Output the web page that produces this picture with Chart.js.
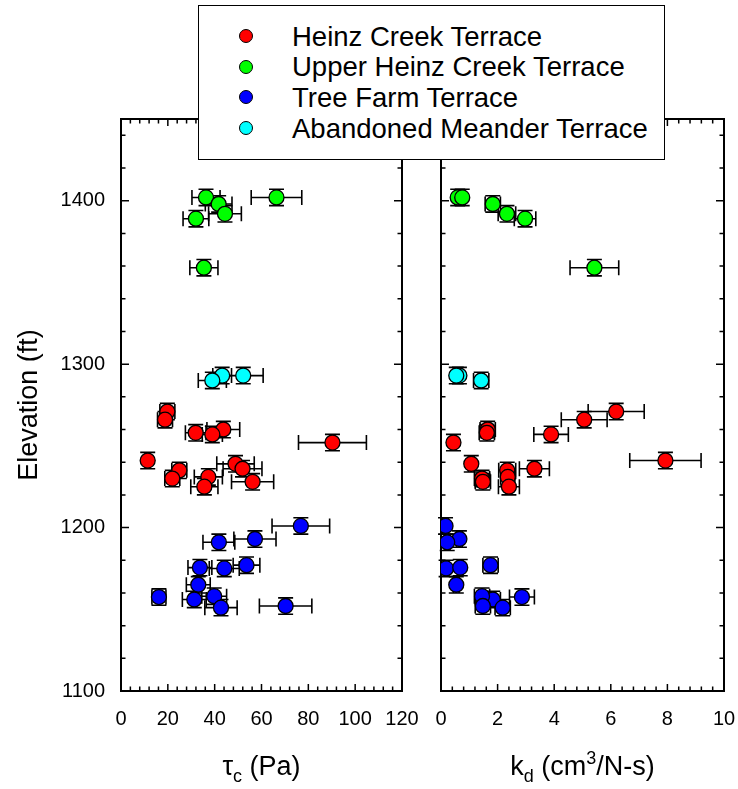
<!DOCTYPE html>
<html>
<head>
<meta charset="utf-8">
<script src="https://cdn.jsdelivr.net/npm/chart.js@4.4.1/dist/chart.umd.min.js"></script>
<style>
  body { margin: 0; background: #fff; }
  #wrap { position: relative; width: 738px; height: 789px; overflow: hidden; }
  canvas { position: absolute; top: 0; }
  #tau { left: 0; }
  #kd { left: 422px; }
  #legendBox { position: absolute; left: 198px; top: 5px; width: 467px; height: 155px;
    border: 1.5px solid #000; background: #fff; box-sizing: border-box; }
  .dot { position: absolute; width: 12px; height: 12px; border-radius: 50%;
    border: 1.3px solid #000; }
  .lbl { position: absolute; left: 292px; font: 27.5px "Liberation Sans", Arial, sans-serif;
    line-height: 28px; white-space: nowrap; color: #000; }
</style>
</head>
<body>
<div id="wrap">
  <canvas id="tau" width="422" height="789"></canvas>
  <canvas id="kd" width="316" height="789"></canvas>
  <div id="legendBox"></div>
</div>
<script>
// Heinz Creek Terrace
const heinzElev   = [1271, 1266, 1260, 1258, 1257, 1252, 1241, 1239, 1236, 1235, 1231, 1230, 1228, 1225];
const heinzTau    = [19.8, 18.8, 43.7, 31.9, 39.0, 90.3, 11.4, 48.9, 51.9, 24.9, 37.3, 21.9, 56.2, 35.6];
const heinzTauErr = [3.2, 3.2, 7.0, 4.4, 4.3, 14.5, 1.0, 8.0, 8.3, 3.2, 6.0, 3.2, 9.0, 5.8];
const heinzKd     = [6.19, 5.06, 1.65, 1.62, 3.89, 0.44, 7.93, 1.07, 3.30, 2.34, 2.36, 1.45, 1.48, 2.40];
const heinzKdErr  = [0.99, 0.81, 0.27, 0.27, 0.61, 0.10, 1.26, 0.10, 0.53, 0.30, 0.25, 0.27, 0.27, 0.37];

// Upper Heinz Creek Terrace
const upperElev   = [1402, 1402, 1398, 1392, 1389, 1359];
const upperTau    = [36.3, 66.4, 41.7, 44.4, 32.0, 35.4];
const upperTauErr = [6.0, 10.8, 5.7, 7.0, 5.5, 6.0];
const upperKd     = [0.59, 0.75, 1.83, 2.33, 2.97, 5.42];
const upperKdErr  = [0.10, 0.10, 0.27, 0.31, 0.38, 0.86];

// Tree Farm Terrace
const treeElev   = [1201, 1193, 1191, 1177, 1175, 1175.5, 1165, 1157.5, 1156, 1158, 1151, 1152];
const treeTau    = [76.8, 57.2, 41.8, 53.6, 44.1, 33.7, 33.0, 16.2, 31.3, 39.8, 42.7, 70.3];
const treeTauErr = [12.3, 9.0, 6.8, 5.7, 6.4, 5.1, 5.1, 3.0, 5.1, 5.3, 6.9, 11.2];
const treeKd     = [0.16, 0.65, 0.22, 1.75, 0.18, 0.68, 0.54, 2.86, 1.83, 1.45, 2.18, 1.48];
const treeKdErr  = [0.10, 0.10, 0.10, 0.27, 0.10, 0.10, 0.10, 0.44, 0.27, 0.27, 0.27, 0.27];

// Abandoned Meander Terrace
const meanderElev   = [1293, 1293, 1290];
const meanderTau    = [43.2, 52.2, 39.0];
const meanderTauErr = [4.0, 8.5, 6.0];
const meanderKd     = [0.65, 0.54, 1.42];
const meanderKdErr  = [0.10, 0.10, 0.27];

const ELEV_ERR = 5;   // elevation uncertainty (ft), same for every sample

const seriesNames  = ['Heinz Creek Terrace', 'Upper Heinz Creek Terrace', 'Tree Farm Terrace', 'Abandoned Meander Terrace'];
const seriesColors = ['#ff0000', '#00ff00', '#0000ff', '#00ffff'];

const yTicks   = [1100, 1200, 1300, 1400];
const tauTicks = [0, 20, 40, 60, 80, 100, 120];
const kdTicks  = [0, 2, 4, 6, 8, 10];

const FONT = '"Liberation Sans", Arial, sans-serif';
Chart.defaults.font.family = FONT;
Chart.defaults.color = '#000';

function points(elev, vals, errs) {
  return elev.map((e, i) => ({ x: vals[i], y: e, xErr: errs[i] }));
}

// error bars, drawn underneath the markers
const errorBars = {
  id: 'errorBars',
  beforeDatasetsDraw(chart) {
    const { ctx, scales: { x, y } } = chart;
    const cap = 7.5;
    ctx.save();
    ctx.strokeStyle = '#000';
    ctx.lineWidth = 1.6;
    chart.data.datasets.forEach(ds => {
      ds.data.forEach(p => {
        const px = x.getPixelForValue(p.x), py = y.getPixelForValue(p.y);
        const xl = x.getPixelForValue(p.x - p.xErr), xr = x.getPixelForValue(p.x + p.xErr);
        const yt = y.getPixelForValue(p.y + ELEV_ERR), yb = y.getPixelForValue(p.y - ELEV_ERR);
        ctx.beginPath();
        ctx.moveTo(xl, py); ctx.lineTo(xr, py);
        ctx.moveTo(xl, py - cap); ctx.lineTo(xl, py + cap);
        ctx.moveTo(xr, py - cap); ctx.lineTo(xr, py + cap);
        ctx.moveTo(px, yt); ctx.lineTo(px, yb);
        ctx.moveTo(px - cap, yt); ctx.lineTo(px + cap, yt);
        ctx.moveTo(px - cap, yb); ctx.lineTo(px + cap, yb);
        ctx.stroke();
      });
    });
    ctx.restore();
  }
};

// box frame with inward ticks on all four sides
const frame = {
  id: 'frame',
  beforeDatasetsDraw(chart, args, opts) {
    const { ctx, chartArea: a, scales: { x, y } } = chart;
    ctx.save();
    ctx.strokeStyle = '#000';
    ctx.lineWidth = 1.5;
    ctx.beginPath();
    const nx = Math.floor((x.max - x.min) / opts.xMinor + 1e-6);
    for (let i = 0; i <= nx; i++) {
      const v = x.min + i * opts.xMinor;
      const len = Math.abs(v / opts.xMajor - Math.round(v / opts.xMajor)) < 1e-6 ? 7 : 4.5;
      const px = x.getPixelForValue(v);
      ctx.moveTo(px, a.bottom); ctx.lineTo(px, a.bottom - len);
      ctx.moveTo(px, a.top); ctx.lineTo(px, a.top + len);
    }
    const ny = Math.floor((y.max - y.min) / opts.yMinor + 1e-6);
    for (let i = 0; i <= ny; i++) {
      const v = y.min + i * opts.yMinor;
      const len = Math.abs(v / opts.yMajor - Math.round(v / opts.yMajor)) < 1e-6 ? 8 : 4.5;
      const py = y.getPixelForValue(v);
      ctx.moveTo(a.left, py); ctx.lineTo(a.left + len, py);
      ctx.moveTo(a.right, py); ctx.lineTo(a.right - len, py);
    }
    ctx.stroke();
    ctx.lineWidth = 2;
    ctx.strokeRect(a.left, a.top, a.width, a.height);
    ctx.restore();
  }
};

// axis titles with sub/superscripts
function drawParts(ctx, parts, cx, cy) {
  const widths = parts.map(p => { ctx.font = p.size + 'px ' + FONT; return ctx.measureText(p.t).width; });
  let xPos = cx - widths.reduce((s, w) => s + w, 0) / 2;
  parts.forEach((p, i) => {
    ctx.font = p.size + 'px ' + FONT;
    ctx.fillText(p.t, xPos, cy + (p.dy || 0));
    xPos += widths[i];
  });
}

const titles = {
  id: 'titles',
  afterDraw(chart, args, opts) {
    const { ctx, chartArea: a } = chart;
    ctx.save();
    ctx.fillStyle = '#000';
    ctx.textBaseline = 'alphabetic';
    ctx.textAlign = 'left';
    drawParts(ctx, opts.parts, (a.left + a.right) / 2, 775);
    if (opts.yTitle) {
      ctx.translate(37, (a.top + a.bottom) / 2);
      ctx.rotate(-Math.PI / 2);
      drawParts(ctx, [{ t: opts.yTitle, size: 27 }], 0, 0);
    }
    ctx.restore();
  }
};

const groups = [
  [heinzElev, heinzTau, heinzTauErr, heinzKd, heinzKdErr],
  [upperElev, upperTau, upperTauErr, upperKd, upperKdErr],
  [treeElev, treeTau, treeTauErr, treeKd, treeKdErr],
  [meanderElev, meanderTau, meanderTauErr, meanderKd, meanderKdErr]
];

function makeChart(id, key, xMax, xTicks, minorX, showY, pad, parts) {
  const datasets = groups.map((g, i) => ({
    label: seriesNames[i],
    data: points(g[0], g[key], g[key + 1]),
    backgroundColor: seriesColors[i],
    borderColor: '#000',
    borderWidth: 1.3,
    pointRadius: 7.5,
    pointHoverRadius: 7.5
  }));
  return new Chart(document.getElementById(id), {
    type: 'scatter',
    data: { datasets },
    options: {
      responsive: false,
      animation: false,
      events: [],
      layout: { padding: pad },
      plugins: {
        legend: { display: false },
        tooltip: { enabled: false },
        frame: { xMajor: xTicks[1] - xTicks[0], xMinor: minorX, yMajor: 100, yMinor: 20 },
        titles: { parts, yTitle: showY ? 'Elevation (ft)' : null }
      },
      scales: {
        x: {
          type: 'linear', min: 0, max: xMax,
          grid: { display: false, drawTicks: false },
          border: { display: false },
          afterBuildTicks: s => { s.ticks = xTicks.map(v => ({ value: v })); },
          afterFit: s => { s.height = 98; s.paddingLeft = 0; s.paddingRight = 0; },
          ticks: { font: { size: 20 }, padding: 16, maxRotation: 0, autoSkip: false, callback: v => String(v) }
        },
        y: {
          type: 'linear', min: 1100, max: 1450, display: showY,
          grid: { display: false, drawTicks: false },
          border: { display: false },
          afterBuildTicks: s => { s.ticks = yTicks.map(v => ({ value: v })); },
          afterFit: s => { s.width = showY ? 121 : 0; s.paddingTop = 0; s.paddingBottom = 0; },
          ticks: { font: { size: 20 }, padding: 16, callback: v => String(v) }
        }
      }
    },
    plugins: [frame, errorBars, titles]
  });
}

makeChart('tau', 1, 120, tauTicks, 4, true, { left: 0, right: 20, top: 119, bottom: 0 },
  [{ t: '\u03c4', size: 27 }, { t: 'c', size: 18, dy: 7 }, { t: ' (Pa)', size: 27 }]);
makeChart('kd', 3, 10, kdTicks, 0.4, false, { left: 19, right: 14, top: 119, bottom: 0 },
  [{ t: 'k', size: 27 }, { t: 'd', size: 18, dy: 7 }, { t: ' (cm', size: 27 }, { t: '3', size: 18, dy: -11 }, { t: '/N-s)', size: 27 }]);

// legend
const box = document.getElementById('wrap');
seriesNames.forEach((name, i) => {
  const cy = 36 + 30.8 * i;
  const dot = document.createElement('div');
  dot.className = 'dot';
  dot.style.left = (246 - 7.3) + 'px';
  dot.style.top = (cy - 7.3) + 'px';
  dot.style.background = seriesColors[i];
  box.appendChild(dot);
  const lbl = document.createElement('div');
  lbl.className = 'lbl';
  lbl.style.top = (cy - 13.5) + 'px';
  lbl.textContent = name;
  box.appendChild(lbl);
});
</script>
</body>
</html>
